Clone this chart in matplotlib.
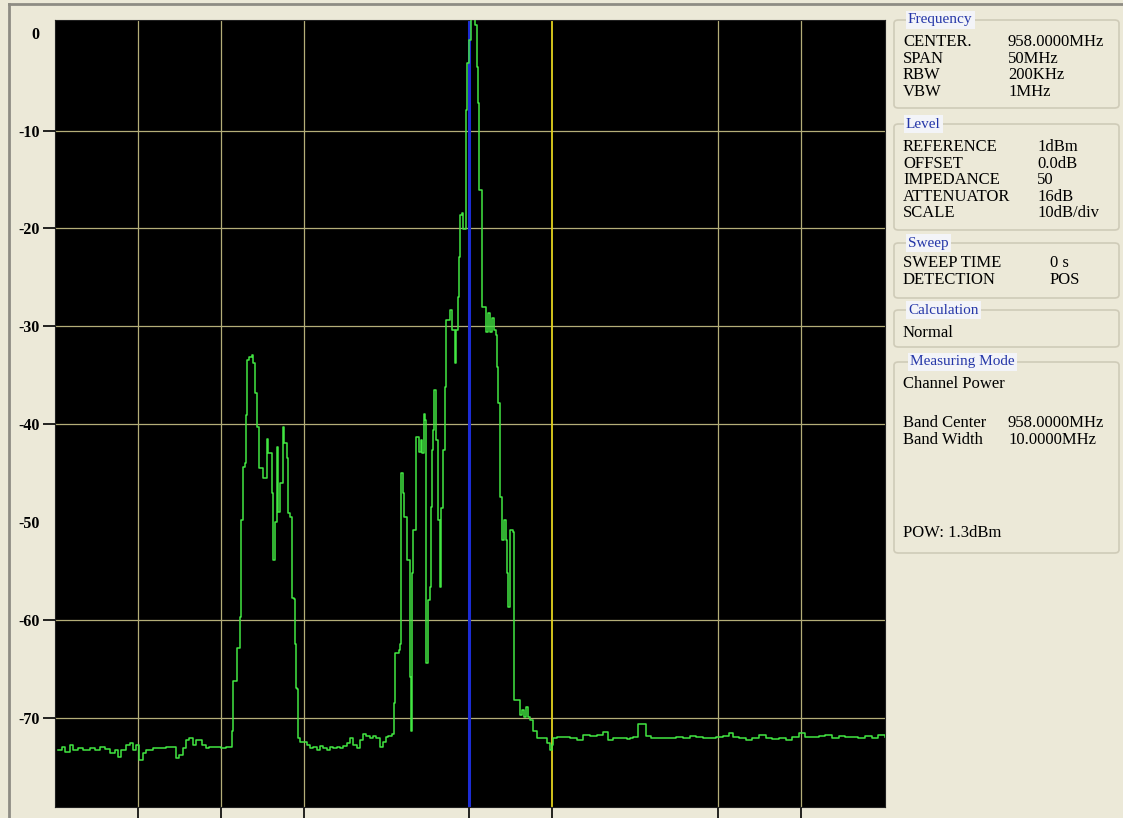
import numpy as np
import matplotlib.pyplot as plt
from matplotlib.patches import FancyBboxPatch
from matplotlib.lines import Line2D

# Trace data (MHz, dBm) ---------------------------------------------

noise_left_f = [933.2, 933.4, 933.6, 933.9, 934.1, 934.4, 934.7, 935.1, 935.4, 935.7,
                936.0, 936.3, 936.6, 936.8, 937.0, 937.3, 937.5, 937.7, 937.9, 938.1,
                938.3, 938.5, 938.9, 939.3, 939.7, 940.0, 940.3, 940.5, 940.7, 940.9,
                941.1, 941.3, 941.5, 941.7, 941.9, 942.1, 942.3, 942.7, 943.0, 943.3]
noise_left_db = [-73.3, -73.0, -73.5, -72.8, -73.3, -73.1, -73.3, -73.1, -73.3, -73.0,
                 -73.2, -73.6, -73.3, -74.0, -73.3, -72.8, -72.6, -73.3, -72.8, -74.3,
                 -73.6, -73.3, -73.1, -73.1, -73.0, -73.0, -74.1, -73.8, -73.1, -72.3,
                 -72.1, -72.8, -72.3, -72.3, -72.8, -73.1, -73.0, -73.0, -73.1, -73.0]

bump_f = [943.43, 943.68, 943.74, 943.98, 943.98, 944.10, 944.16, 944.22, 944.34, 944.34,
          944.46, 944.52, 944.58, 944.60, 944.70, 944.88, 944.94, 945.06, 945.18, 945.30,
          945.55, 945.79, 945.85, 946.10, 946.15, 946.18, 946.30, 946.39, 946.45, 946.60,
          946.75, 946.80, 946.99, 947.05, 947.17, 947.29, 947.41, 947.48, 947.54, 947.60,
          947.66, 947.78, 948.20]
bump_db = [-73.0, -71.3, -66.2, -65.9, -62.9, -62.9, -59.7, -49.8, -49.8, -44.4,
           -44.0, -39.1, -36.2, -33.4, -33.1, -32.9, -33.7, -36.8, -40.3, -44.5,
           -45.5, -41.5, -42.9, -47.0, -51.1, -53.9, -50.0, -42.3, -49.0, -46.0,
           -40.3, -41.9, -43.4, -49.1, -49.5, -57.7, -57.9, -62.4, -66.9, -67.0,
           -72.0, -72.5, -72.8]

noise_mid_f = [948.4, 948.6, 948.8, 949.0, 949.2, 949.4, 949.6, 949.8, 950.0, 950.2,
               950.4, 950.6, 950.8, 951.0, 951.2, 951.4, 951.6, 951.8, 952.0, 952.2,
               952.4, 952.6, 952.8, 953.0]
noise_mid_db = [-73.1, -73.0, -73.3, -72.9, -73.1, -73.3, -73.0, -73.1, -73.0, -73.1,
                -72.9, -72.6, -72.1, -72.8, -73.1, -72.3, -71.6, -71.8, -72.1, -71.8,
                -72.0, -73.0, -72.5, -71.9]

main_f = [953.08, 953.33, 953.45, 953.51, 953.75, 953.81, 953.87, 953.93, 953.99, 954.05,
          954.23, 954.41, 954.47, 954.53, 954.55, 954.59, 954.71, 954.77, 954.89, 954.95,
          955.07, 955.13, 955.26, 955.32, 955.38, 955.50, 955.62, 955.68, 955.74, 955.80,
          955.86, 955.92, 955.98, 956.10, 956.22, 956.28, 956.40, 956.52, 956.58, 956.70,
          956.82, 956.94, 957.13, 957.19, 957.31, 957.37, 957.43, 957.55, 957.61, 957.79,
          957.85, 957.97, 958.09, 958.21, 958.33, 958.45, 958.47, 958.51, 958.57, 958.75,
          958.77, 958.87, 958.99, 959.12, 959.24, 959.36, 959.48, 959.60, 959.66, 959.72,
          959.84, 959.96, 960.08, 960.20, 960.26, 960.32, 960.44, 960.62, 960.68, 960.86,
          961.05, 961.17, 961.29, 961.41, 961.53, 961.65, 961.83, 962.07, 962.43, 962.67,
          962.86, 962.98, 963.04]
main_db = [-71.8, -71.6, -68.5, -63.4, -63.1, -62.4, -45.0, -45.0, -47.0, -49.5,
           -53.9, -65.8, -71.3, -60.0, -55.2, -50.8, -50.8, -41.3, -41.3, -42.8,
           -41.6, -42.9, -38.9, -39.6, -64.4, -58.0, -56.6, -48.5, -42.6, -40.6,
           -36.5, -36.5, -41.6, -49.8, -56.6, -48.6, -42.6, -36.2, -29.3, -29.3,
           -28.3, -30.4, -33.7, -30.4, -27.0, -22.9, -18.6, -18.4, -20.1, -7.9,
           -3.1, -0.7, 2.4, 1.8, 0.8, 0.3, -3.5, -7.2, -16.1, -16.1,
           -28.0, -28.0, -30.6, -28.6, -30.6, -29.1, -30.4, -30.9, -34.2, -37.8,
           -47.4, -51.8, -49.8, -51.8, -55.2, -58.7, -50.8, -51.0, -68.2, -68.2,
           -69.7, -69.2, -69.9, -68.9, -69.9, -70.2, -71.3, -72.0, -72.0, -72.6,
           -73.3, -72.8, -72.0]

noise_right_f = [963.3, 963.7, 964.1, 964.5, 964.9, 965.3, 965.7, 966.1, 966.4, 966.7,
                 967.1, 967.5, 967.7, 967.9, 968.2, 968.5, 968.7, 969.0, 969.3, 969.7,
                 970.1, 970.5, 970.9, 971.3, 971.7, 972.1, 972.5, 972.9, 973.3, 973.7,
                 973.9, 974.3, 974.7, 975.1, 975.5, 975.9, 976.3, 976.7, 977.1, 977.5,
                 977.9, 978.3, 978.7, 979.1, 979.5, 979.9, 980.3, 980.7, 981.1, 981.5,
                 981.9, 982.3, 982.7, 983.1]
noise_right_db = [-71.9, -71.9, -72.0, -72.3, -71.7, -71.8, -71.7, -71.4, -72.3, -72.0,
                  -72.1, -72.2, -72.0, -71.9, -70.6, -70.6, -71.8, -72.0, -72.0, -72.0,
                  -72.0, -71.9, -72.0, -71.8, -71.9, -72.0, -72.0, -71.9, -71.8, -71.5,
                  -71.9, -72.0, -72.3, -72.0, -71.7, -72.0, -72.2, -72.0, -72.3, -71.9,
                  -71.5, -71.9, -71.9, -71.8, -71.7, -72.0, -71.8, -71.9, -71.9, -72.0,
                  -71.8, -72.1, -71.7, -71.9]

y_ticks = [0, -10, -20, -30, -40, -50, -60, -70]
y_labels = ['0', '-10', '-20', '-30', '-40', '-50', '-60', '-70']
grid_levels = [-10, -20, -30, -40, -60, -70]
grid_freqs = [938, 943, 948, 973, 978]
center_freq = 958
band_edge = 963

panel_rows = {
    'Frequency': [('CENTER.', '958.0000MHz'), ('SPAN', '50MHz'), ('RBW', '200KHz'), ('VBW', '1MHz')],
    'Level': [('REFERENCE', '1dBm'), ('OFFSET', '0.0dB'), ('IMPEDANCE', '50'),
              ('ATTENUATOR', '16dB'), ('SCALE', '10dB/div')],
    'Sweep': [('SWEEP TIME', '0 s'), ('DETECTION', 'POS')],
}

# Figure ----------------------------------------------------------

W, H = 1123, 818
BG = '#ECE9D8'
fig = plt.figure(figsize=(W / 100, H / 100), dpi=100, facecolor=BG)

def fx(x):
    return x / W

def fy(y):
    return 1 - y / H

ax = fig.add_axes([fx(55), fy(807), 830 / W, 787 / H])
ax.set_facecolor('black')
ax.set_xlim(933, 983.1)
ax.set_ylim(-79.1, 1.3)

for lv in grid_levels:
    ax.axhline(lv, color='#B4AE78', lw=0.9, zorder=1)
for fr in grid_freqs:
    ax.axvline(fr, color='#B4AE78', lw=0.9, zorder=1)
ax.axvline(band_edge, color='#E2D21E', lw=1.3, zorder=1)
ax.axvline(center_freq, color='#1C2CD4', lw=2.2, zorder=2)

freq = np.concatenate([noise_left_f, bump_f, noise_mid_f, main_f, noise_right_f])
level = np.concatenate([noise_left_db, bump_db, noise_mid_db, main_db, noise_right_db])
ax.plot(freq, level, color='#42E642', lw=1.1, zorder=3, drawstyle='steps-post')

ax.set_xticks(grid_freqs[:3] + [center_freq, band_edge] + grid_freqs[3:])
ax.tick_params(axis='x', length=8, width=1.2, color='black', labelbottom=False, direction='out')
ax.set_yticks(y_ticks)
ax.set_yticklabels(y_labels, fontfamily='Liberation Serif', fontweight='bold', fontsize=11.5)
ax.tick_params(axis='y', length=9, width=1.2, color='black', pad=2)
for i, t in enumerate(ax.yaxis.get_major_ticks()):
    if y_ticks[i] in (0, -50):
        t.tick1line.set_visible(False)
for s in ax.spines.values():
    s.set_color('#202020')

# window edges
fig.add_artist(Line2D([fx(9), fx(9)], [0, fy(4)], color='#8E8C84', lw=2))
fig.add_artist(Line2D([fx(9), 1], [fy(4), fy(4)], color='#8E8C84', lw=2))

# Right info panel ------------------------------------------------

SERIF = 'Liberation Serif'
TITLE_C = '#2436A8'

def group(top, bottom, title, tx=908):
    box = FancyBboxPatch((fx(894), fy(bottom)), (1119 - 894) / W, (bottom - top) / H,
                         boxstyle='round,pad=0,rounding_size=0.004', transform=fig.transFigure,
                         fc='none', ec='#CFCBB8', lw=1.2)
    fig.patches.append(box)
    fig.text(fx(tx), fy(top), title, color=TITLE_C, fontsize=11, family=SERIF,
             va='center', ha='left',
             bbox=dict(boxstyle='square,pad=0.15', fc='#F3F4F8', ec='none'))

def rows(items, y0, dy, vx):
    for i, (k, v) in enumerate(items):
        y = y0 + i * dy
        fig.text(fx(903), fy(y), k, fontsize=12, family=SERIF, va='center', ha='left')
        fig.text(fx(vx), fy(y), v, fontsize=12, family=SERIF, va='center', ha='left')

group(20, 108, 'Frequency')
rows(panel_rows['Frequency'], 42, 16.7, 1008)
group(124, 230, 'Level', tx=906)
rows(panel_rows['Level'], 147, 16.6, 1037)
group(243, 298, 'Sweep')
rows(panel_rows['Sweep'], 263, 17, 1050)
group(310, 347, 'Calculation')
fig.text(fx(903), fy(333), 'Normal', fontsize=12, family=SERIF, va='center')
group(362, 553, 'Measuring Mode', tx=910)
fig.text(fx(903), fy(384), 'Channel Power', fontsize=12, family=SERIF, va='center')
rows([('Band Center', '958.0000MHz'), ('Band Width', '10.0000MHz')], 423, 17, 1008)
fig.text(fx(903), fy(533), 'POW: 1.3dBm', fontsize=12, family=SERIF, va='center')

fig.savefig('out.png', dpi=100, facecolor=BG)
